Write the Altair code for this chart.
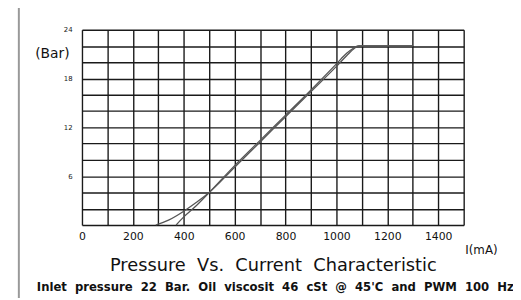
import altair as alt
import pandas as pd

# Curve A (softer start)
current_a = [290, 340, 400, 450, 500, 600, 700, 800, 900, 1000, 1040, 1070, 1090, 1300]
pressure_a = [0.0, 0.6, 1.7, 2.8, 4.0, 7.1, 10.2, 13.3, 16.4, 19.5, 20.8, 21.7, 22.0, 22.0]
# Curve B (steeper start)
current_b = [370, 400, 450, 500, 600, 700, 800, 900, 1000, 1040, 1065, 1085, 1300]
pressure_b = [0.0, 1.0, 2.4, 4.0, 7.3, 10.4, 13.5, 16.6, 19.8, 21.1, 21.7, 22.0, 22.0]

x_grid = list(range(0, 1501, 100))
y_grid = list(range(0, 25, 2))

title_text = "Pressure\u00a0 Vs.\u00a0 Current\u00a0 Characteristic"
subtitle_text = "Inlet\u00a0 pressure\u00a0 22\u00a0 Bar.\u00a0 Oil\u00a0 viscosit\u00a0 46\u00a0 cSt\u00a0 @\u00a0 45'C\u00a0 and\u00a0 PWM\u00a0 100\u00a0 Hz"

df = pd.concat([
    pd.DataFrame({"mA": current_a, "bar": pressure_a, "curve": "A"}),
    pd.DataFrame({"mA": current_b, "bar": pressure_b, "curve": "B"}),
])

FONT = "DejaVu Sans"

xenc = alt.X("mA:Q", scale=alt.Scale(domain=[0, 1500], nice=False),
             axis=alt.Axis(values=x_grid, grid=True, gridColor="#1a1a1a", gridWidth=1.4,
                           domain=False, ticks=False, labelFlush=False,
                           labelExpr="(datum.value % 200 == 0 && datum.value <= 1400) ? datum.label : ''",
                           labelFontSize=11, labelFont=FONT, labelColor="#111", labelPadding=6,
                           format="d", title=None))
yenc = alt.Y("bar:Q", scale=alt.Scale(domain=[0, 24], nice=False),
             axis=alt.Axis(values=y_grid, grid=True, gridColor="#1a1a1a", gridWidth=1.4,
                           domain=False, ticks=False, labelFlush=False,
                           labelExpr="(datum.value % 6 == 0 && datum.value > 0) ? datum.label : ''",
                           labelFontSize=7, labelFont=FONT, labelColor="#222", labelPadding=10,
                           title=None))

lines = alt.Chart(df).mark_line(color="#555", strokeWidth=1.3, interpolate="monotone").encode(
    x=xenc, y=yenc, detail="curve:N")

def txt(s, x, y, size, weight="normal"):
    return alt.Chart(pd.DataFrame({"t": [s]})).mark_text(
        font=FONT, fontSize=size, fontWeight=weight, color="#111", align="center", baseline="middle"
    ).encode(text="t:N", x=alt.value(x), y=alt.value(y))

title = txt(title_text, 194, 240, 18)
subtitle = txt(subtitle_text, 196, 261, 11.8, "bold")
bar_lbl = txt("(Bar)", -30, 25, 14)
ma_lbl = txt("I(mA)", 405, 223, 12)

frame_left = alt.Chart(pd.DataFrame({"a": [0]})).mark_rule(color="#999", strokeWidth=2).encode(
    x=alt.value(-64), y=alt.value(-23), y2=alt.value(300))
frame_top = alt.Chart(pd.DataFrame({"a": [0]})).mark_rule(color="#999", strokeWidth=2).encode(
    x=alt.value(-64), x2=alt.value(460), y=alt.value(-23))

chart = alt.layer(frame_left, frame_top, lines, title, subtitle, bar_lbl, ma_lbl).properties(
    width=387, height=198,
    autosize=alt.AutoSizeParams(type="none"),
    padding={"left": 75, "top": 20, "right": 50, "bottom": 72},
).configure_view(stroke=None)

chart.save("out.html", embed_options={"renderer": "svg", "actions": False})
